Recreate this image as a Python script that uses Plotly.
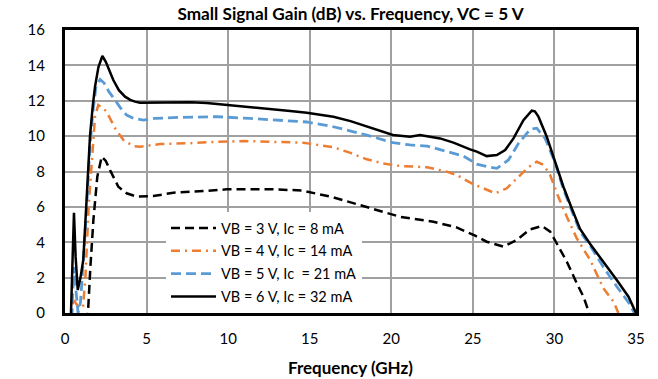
import plotly.graph_objects as go

# ---- data ----
freq_vb3 = [1.38, 1.45, 1.55, 1.74, 1.98, 2.25, 2.5, 2.76, 3.0, 3.27, 3.78, 4.4, 5.41, 6.64, 8.69,
            9.91, 12.77, 14.5, 16.45, 18.5, 20.54, 22.58, 24.0, 25.14, 25.85, 26.87, 27.69, 28.51,
            29.23, 29.74, 30.15, 30.76, 31.37, 31.78, 32.09, 32.2]
gain_vb3 = [-0.5, 0.8, 2.5, 5.26, 7.7, 8.84, 8.6, 8.08, 7.6, 7.14, 6.77, 6.58, 6.61, 6.8, 6.91,
            6.99, 6.99, 6.93, 6.54, 5.97, 5.44, 5.16, 4.84, 4.37, 4.03, 3.75, 4.13, 4.73,
            4.92, 4.6, 3.94, 2.9, 1.68, 0.92, 0.1, -0.5]

freq_vb4 = [0.4, 0.5, 0.7, 0.9, 1.1, 1.25, 1.45, 1.64, 1.84, 2.04, 2.3, 2.55, 2.8, 3.07, 3.58, 4.19,
            4.6, 5.0, 5.83, 7.66, 9.3, 11.03, 12.77, 14.61, 16.45, 17.5, 18.5, 19.5, 20.54, 22.2,
            23.4, 24.01, 24.93, 25.65, 26.37, 27.08, 27.79, 28.4, 28.92, 29.33, 29.74, 30.15,
            30.76, 31.37, 32.19, 33.0, 33.62, 33.92]
gain_vb4 = [-0.3, 0.8, 0.5, 0.3, 0.3, 2.0, 6.0, 8.65, 11.1, 11.76, 11.6, 11.38, 10.9, 10.44, 9.78, 9.44,
            9.4, 9.44, 9.55, 9.6, 9.68, 9.72, 9.68, 9.63, 9.37, 9.05, 8.69, 8.45, 8.31, 8.24,
            7.99, 7.8, 7.33, 7.05, 6.77, 7.05, 7.71, 8.24, 8.55, 8.37, 7.8, 6.77,
            5.44, 4.22, 3.0, 1.4, 0.64, 0.0]

freq_vb5 = [0.4, 0.55, 0.7, 0.8, 0.95, 1.1, 1.3, 1.5, 1.7, 1.9, 2.15, 2.4, 2.7, 3.07, 3.4, 3.78,
            4.2, 4.8, 5.5, 7.05, 9.3, 11.34, 13.59, 14.82, 16.45, 18.5, 20.1, 21.15, 22.2, 23.4,
            24.42, 25.24, 25.44, 26.0, 26.47, 27.18, 27.8, 28.51, 28.92, 29.43, 30.0, 30.55,
            31.06, 31.57, 32.19, 33.0, 33.82, 34.54, 34.9]
gain_vb5 = [-0.3, 2.6, 1.0, 0.0, 0.6, 2.5, 5.5, 9.0, 11.3, 12.8, 13.2, 13.0, 12.5, 12.04, 11.6, 11.19,
            11.0, 10.91, 11.0, 11.06, 11.1, 11.0, 10.87, 10.8, 10.53, 10.06, 9.63, 9.5, 9.44, 9.12,
            8.87, 8.42, 8.37, 8.25, 8.18, 8.65, 9.59, 10.38, 10.45, 9.87, 8.6, 7.0,
            5.8, 4.6, 3.8, 2.6, 1.5, 0.6, 0.0]

freq_vb6 = [0.35, 0.45, 0.55, 0.65, 0.78, 0.95, 1.12, 1.3, 1.53, 1.7, 1.84, 2.05, 2.29, 2.5, 2.75,
            2.96, 3.3, 3.68, 4.0, 4.29, 4.6, 5.5, 6.64, 7.7, 8.69, 10.05, 11.4, 12.77, 13.8, 14.82,
            16.45, 17.5, 18.5, 19.3, 20.1, 21.15, 21.76, 22.99, 23.81, 24.83, 25.24, 25.85, 26.47,
            26.98, 27.49, 28.1, 28.61, 28.8, 29.02, 29.53, 30.1, 30.55, 31.06, 31.57, 32.19,
            33.0, 33.82, 34.54, 35.0]
gain_vb6 = [-0.5, 2.5, 5.67, 3.2, 1.3, 2.0, 3.0, 6.0, 9.97, 11.7, 12.8, 13.9, 14.53, 14.2, 13.6,
            13.17, 12.6, 12.23, 12.05, 11.95, 11.89, 11.9, 11.95, 11.92, 11.87, 11.76, 11.63, 11.51, 11.42, 11.32,
            11.1, 10.85, 10.53, 10.3, 10.06, 9.97, 10.06, 9.87, 9.63, 9.25, 9.12, 8.87, 8.93,
            9.21, 9.87, 10.9, 11.44, 11.4, 11.1, 9.97, 8.46, 7.14, 5.92, 4.75, 3.9,
            2.9, 1.87, 0.92, 0.0]

series_names = ["VB = 3 V, Ic = 8 mA", "VB = 4 V, Ic = 14 mA",
                "VB = 5 V, Ic  = 21 mA", "VB = 6 V, Ic = 32 mA"]

x_ticks = [0, 5, 10, 15, 20, 25, 30, 35]
y_ticks = [0, 2, 4, 6, 8, 10, 12, 14, 16]

title_text = "Small Signal Gain (dB) vs. Frequency, VC = 5 V"
x_title = "Frequency (GHz)"

FONT = "Lato"

styles = [
    dict(color="#000000", width=2.5, dash="9px,5px"),
    dict(color="#ED7D31", width=2.5, dash="9px,5px,2px,5px"),
    dict(color="#5B9BD5", width=2.8, dash="10px,5px"),
    dict(color="#000000", width=2.5, dash="solid"),
]

data = [(freq_vb3, gain_vb3), (freq_vb4, gain_vb4), (freq_vb5, gain_vb5), (freq_vb6, gain_vb6)]

fig = go.Figure()
for i, ((fx, gy), name, st) in enumerate(zip(data, series_names, styles)):
    assert len(fx) == len(gy), name
    fig.add_trace(go.Scatter(x=fx, y=gy, mode="lines", name=name, line=st,
                             legendgroup=f"g{i}"))

fig.update_layout(
    width=658, height=379,
    margin=dict(l=65, r=22, t=30, b=66),
    paper_bgcolor="white", plot_bgcolor="white",
    font=dict(family=FONT, size=15, color="#000000"),
    title=dict(text=f"<b>{title_text}</b>", x=0.5, xref="paper", xanchor="center",
               y=1 - 14 / 379, yanchor="middle", font=dict(size=17.2)),
    showlegend=True,
    legend=dict(x=(166 - 65) / 571, y=(313 - 212) / 283, xanchor="left", yanchor="top",
                bgcolor="white", borderwidth=0, font=dict(size=14.5),
                tracegroupgap=1, itemwidth=45),
)
fig.update_xaxes(range=[0, 35], tickvals=x_ticks, showgrid=True, gridcolor="#A0A0A0", gridwidth=1.5,
                 showline=True, linecolor="black", linewidth=3, mirror=True, zeroline=False,
                 ticks="", ticklabelstandoff=10, automargin=False,
                 title=dict(text=f"<b>{x_title}</b>", font=dict(size=17), standoff=17))
fig.update_yaxes(range=[0, 16], tickvals=y_ticks, showgrid=True, gridcolor="#A0A0A0", gridwidth=1.5,
                 showline=True, linecolor="black", linewidth=3, mirror=True, zeroline=False,
                 ticks="", ticklabelstandoff=14, automargin=False)

fig.write_html("out.html", config={"displayModeBar": False},
               post_script="document.body.style.margin='0';")
